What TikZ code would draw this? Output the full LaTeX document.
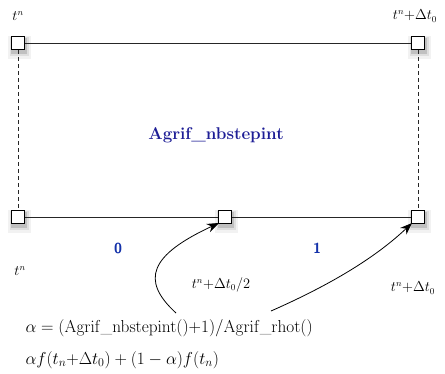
\documentclass[tikz,border=0pt]{standalone}
\usetikzlibrary{arrows.meta,shadows}
\definecolor{navy}{RGB}{30,30,150}
\definecolor{digitblue}{RGB}{20,50,170}
\begin{document}
\begin{tikzpicture}[x=1pt,y=-1pt,
  sq/.style={draw=black, line width=1pt, fill=white, minimum size=13pt, inner sep=0pt,
    general shadow={fill=black, opacity=0.05, shadow scale=1.75, shadow xshift=1pt, shadow yshift=-2.5pt},
    general shadow={fill=black, opacity=0.08, shadow scale=1.45, shadow xshift=1pt, shadow yshift=-2.5pt},
    general shadow={fill=black, opacity=0.14, shadow scale=1.2, shadow xshift=1pt, shadow yshift=-2.5pt}},
  lab/.style={font=\fontsize{13.5}{16}\selectfont},
  big/.style={font=\fontsize{16.8}{19}\selectfont},
  dig/.style={font=\fontsize{14.5}{17}\selectfont\sffamily\bfseries, text=digitblue},
  conn/.style={line width=0.7pt, draw=black!85},
  arr/.style={line width=0.8pt, -{Stealth[length=12pt,width=9pt]}}]
\useasboundingbox (0,0) rectangle (445,373);
\node[sq] (A) at (18,43) {};
\node[sq] (B) at (418,43) {};
\node[sq] (C) at (18,217) {};
\node[sq] (D) at (225,217) {};
\node[sq] (E) at (418,217) {};
\draw[conn] (A) -- (B);
\draw[conn] (C) -- (D);
\draw[conn] (D) -- (E);
\draw[conn, dash pattern=on 4pt off 3pt] (A) -- (C);
\draw[conn, dash pattern=on 4pt off 3pt] (B) -- (E);
\node[lab] (l1) at (18,16) {$t^n$};
\node[lab] (l2) at (415,16) {$t^n{+}\Delta t_0$};
\node[text=navy, font=\fontsize{17}{20}\selectfont\bfseries] (title) at (216,135) {Agrif\_nbstepint};
\node[dig] (z) at (118,248) {0};
\node[dig] (o) at (317,248) {1};
\node[lab] (l3) at (20,271) {$t^n$};
\node[lab] (l4) at (221,285) {$t^n{+}\Delta t_0/2$};
\node[lab] (l5) at (413,288) {$t^n{+}\Delta t_0$};
\node[big, anchor=west] (f1) at (22,328) {$\alpha=(\mathrm{Agrif\_nbstepint}(){+}1)/\mathrm{Agrif\_rhot}()$};
\node[big, anchor=west] (f2) at (22,360) {$\alpha f(t_n{+}\Delta t_0)+(1-\alpha)f(t_n)$};
\coordinate (s1) at (176,313);
\coordinate (s2) at (271,311);
\draw[arr] (s1) .. controls (140,280) and (150,255) .. ([shift={(1pt,1pt)}]D.south west);
\draw[arr] (s2) .. controls (330,285) and (375,258) .. ([shift={(1pt,1pt)}]E.south west);
\end{tikzpicture}
\end{document}
